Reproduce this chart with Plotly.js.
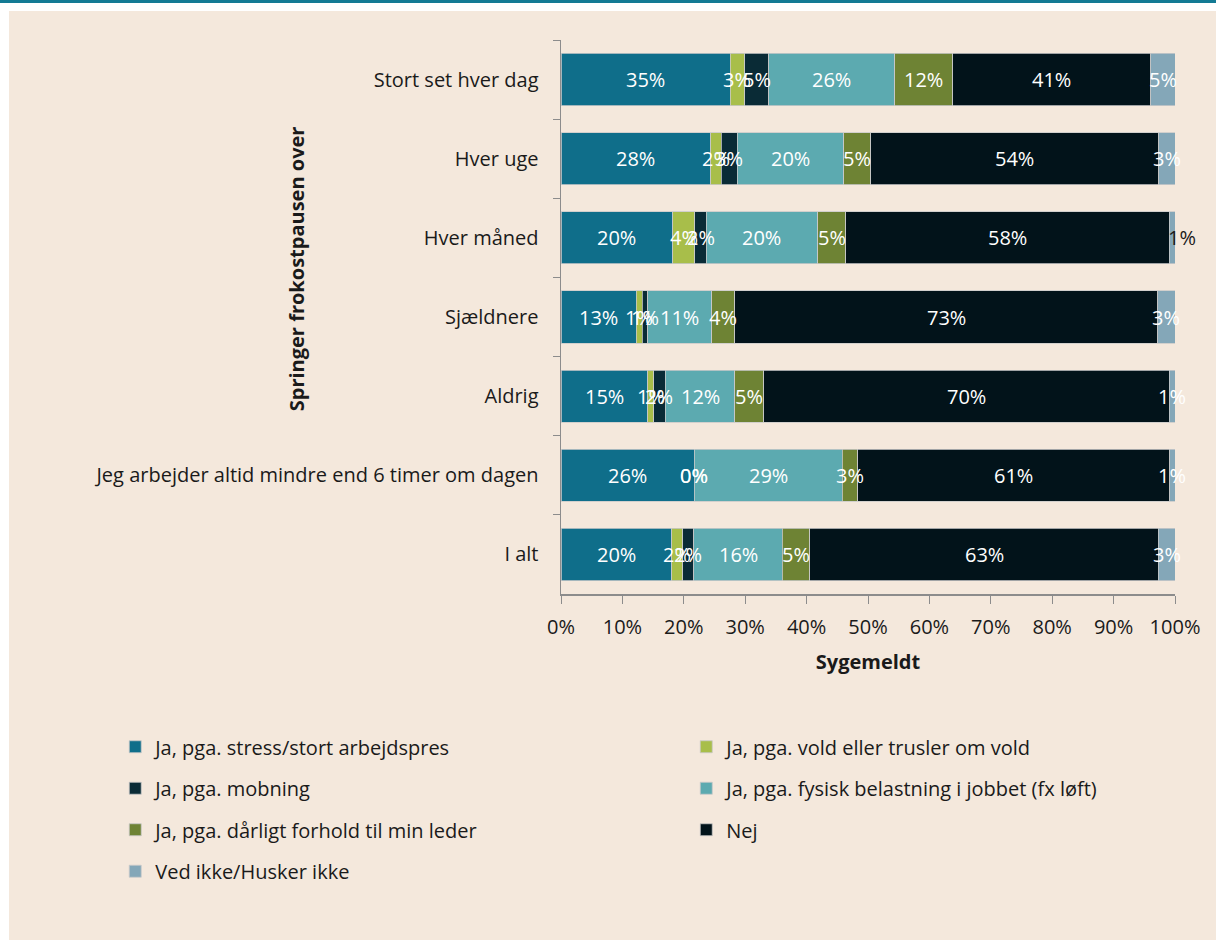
<!DOCTYPE html>
<html>
<head>
<meta charset="utf-8">
<script src="https://cdn.plot.ly/plotly-3.0.1.min.js"></script>
<style>
  html, body { margin: 0; padding: 0; background: #ffffff; width: 1216px; height: 940px; overflow: hidden; }
  #topline { position: absolute; left: 0; top: 0; width: 1216px; height: 3px; background: #137a94; }
  #chart { position: absolute; left: 9px; top: 11px; width: 1207px; height: 929px; }
</style>
</head>
<body>
<div id="topline"></div>
<div id="chart"></div>
<script>
// Categories (top to bottom)
const categories = [
  "Stort set hver dag",
  "Hver uge",
  "Hver måned",
  "Sjældnere",
  "Aldrig",
  "Jeg arbejder altid mindre end 6 timer om dagen",
  "I alt"
];

// Series names
const seriesNames = [
  "Ja, pga. stress/stort arbejdspres",
  "Ja, pga. vold eller trusler om vold",
  "Ja, pga. mobning",
  "Ja, pga. fysisk belastning i jobbet (fx løft)",
  "Ja, pga. dårligt forhold til min leder",
  "Nej",
  "Ved ikke/Husker ikke"
];

// Values (%), one array per series, in category order
const stress  = [35, 28, 20, 13, 15, 26, 20];
const vold    = [3, 2, 4, 1, 1, 0, 2];
const mobning = [5, 3, 2, 1, 2, 0, 2];
const fysisk  = [26, 20, 20, 11, 12, 29, 16];
const leder   = [12, 5, 5, 4, 5, 3, 5];
const nej     = [41, 54, 58, 73, 70, 61, 63];
const vedIkke = [5, 3, 1, 3, 1, 1, 3];

const seriesValues = [stress, vold, mobning, fysisk, leder, nej, vedIkke];
const xTickVals = [0,10,20,30,40,50,60,70,80,90,100];
const xTickLabels = ["0%","10%","20%","30%","40%","50%","60%","70%","80%","90%","100%"];

const colors = ["#0f6e8a", "#a8be4a", "#0a2b36", "#5caab0", "#6e8334", "#02131a", "#84a7b8"];
const FONT = "Open Sans, Noto Sans, DejaVu Sans, sans-serif";
const FS = 20;

const traces = seriesValues.map((vals, i) => ({
  type: "bar",
  orientation: "h",
  name: seriesNames[i],
  y: categories,
  x: vals,
  textposition: "none",
  marker: { color: colors[i], line: { color: "#c9c9c9", width: 0.8 } },
  legend: (i % 2 === 0) ? "legend" : "legend2",
  legendgroup: "g" + i,
  hoverinfo: "name+x"
}));

// Data labels: centred on each (normalised) segment, computed from the data arrays
const totals = categories.map((c, j) => seriesValues.reduce((s, vals) => s + vals[j], 0));
const annotations = [];
categories.forEach((cat, j) => {
  let cum = 0;
  seriesValues.forEach((vals, i) => {
    const v = vals[j];
    const mid = (cum + v / 2) / totals[j] * 100;
    cum += v;
    const special = (i === 6 && j === 2); // label drawn just outside, dark
    annotations.push({
      x: mid, y: cat, xref: "x", yref: "y",
      text: v + "%",
      showarrow: false,
      xanchor: "center", yanchor: "middle",
      xshift: special ? 10 : 0,
      font: { family: FONT, size: FS, color: special ? "#1a1a1a" : "#ffffff" }
    });
  });
});

annotations.push({
  text: "<b>Springer frokostpausen over</b>",
  xref: "paper", yref: "paper",
  x: -0.4316, y: 0.588,
  xanchor: "center", yanchor: "middle",
  textangle: -90,
  showarrow: false,
  font: { family: FONT, size: FS, color: "#1a1a1a" }
});

const layout = {
  width: 1207,
  height: 929,
  paper_bgcolor: "#f4e8dc",
  plot_bgcolor: "#f4e8dc",
  font: { family: FONT, size: FS, color: "#1a1a1a" },
  margin: { l: 552, r: 41, t: 29, b: 346 },
  barmode: "stack",
  barnorm: "percent",
  bargap: 0.34,
  showlegend: true,
  xaxis: {
    range: [0, 100],
    tickvals: xTickVals,
    ticktext: xTickLabels,
    ticks: "outside",
    ticklen: 8,
    tickcolor: "#8c8c8c",
    showline: true,
    linecolor: "#8c8c8c",
    linewidth: 1.5,
    showgrid: false,
    zeroline: false,
    ticklabelstandoff: 6,
    tickfont: { family: FONT, size: FS, color: "#1a1a1a" },
    title: { text: "<b>Sygemeldt</b>", font: { family: FONT, size: FS, color: "#1a1a1a" }, standoff: 16 },
    fixedrange: true
  },
  yaxis: {
    type: "category",
    autorange: "reversed",
    ticks: "outside",
    tickson: "boundaries",
    ticklen: 7,
    tickcolor: "#8c8c8c",
    showline: true,
    linecolor: "#8c8c8c",
    linewidth: 1.5,
    showgrid: false,
    zeroline: false,
    ticklabelstandoff: 17,
    tickfont: { family: FONT, size: FS, color: "#1a1a1a" },
    fixedrange: true
  },
  legend: {
    x: -0.726, xanchor: "left",
    y: -0.2405, yanchor: "top",
    orientation: "v",
    traceorder: "grouped",
    tracegroupgap: 12.5,
    itemwidth: 30,
    bgcolor: "rgba(0,0,0,0)",
    font: { family: FONT, size: FS, color: "#1a1a1a" }
  },
  legend2: {
    x: 0.204, xanchor: "left",
    y: -0.2405, yanchor: "top",
    orientation: "v",
    traceorder: "grouped",
    tracegroupgap: 12.5,
    itemwidth: 30,
    bgcolor: "rgba(0,0,0,0)",
    font: { family: FONT, size: FS, color: "#1a1a1a" }
  },
  annotations: annotations
};

Plotly.newPlot("chart", traces, layout, { displayModeBar: false, staticPlot: true });
</script>
</body>
</html>
